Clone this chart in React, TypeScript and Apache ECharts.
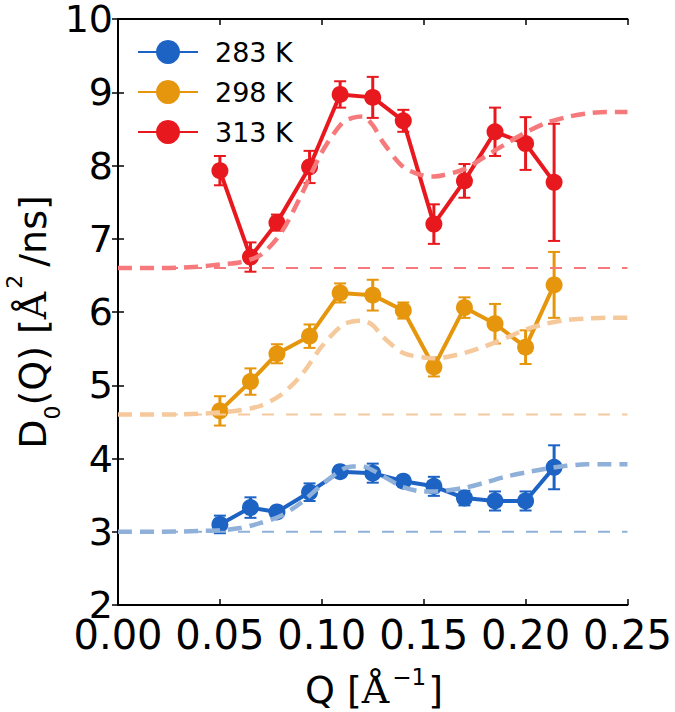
import React, { useEffect, useRef } from "react";
import * as echarts from "echarts";

// Measured data (Q in 1/Å, D0 in Å^2/ns)
const qData = [0.05, 0.065, 0.078, 0.094, 0.109, 0.125, 0.14, 0.155, 0.17, 0.185, 0.2, 0.214];
const d283 = [3.1, 3.33, 3.27, 3.54, 3.82, 3.8, 3.69, 3.62, 3.46, 3.42, 3.42, 3.88];
const e283 = [0.12, 0.14, 0.05, 0.12, 0.05, 0.13, 0.05, 0.13, 0.1, 0.13, 0.13, 0.3];
const d298 = [4.65, 5.05, 5.43, 5.67, 6.26, 6.23, 6.02, 5.25, 6.06, 5.84, 5.52, 6.37];
const e298 = [0.2, 0.18, 0.13, 0.16, 0.13, 0.21, 0.11, 0.13, 0.14, 0.27, 0.23, 0.45];
const d313 = [7.93, 6.75, 7.22, 7.98, 8.97, 8.93, 8.61, 7.2, 7.79, 8.46, 8.3, 7.77];
const e313 = [0.2, 0.2, 0.11, 0.22, 0.18, 0.28, 0.15, 0.27, 0.23, 0.33, 0.36, 0.8];

// Model curves (dashed)
const qModel = [0, 0.02, 0.04, 0.05, 0.06, 0.07, 0.08, 0.09, 0.1, 0.11, 0.115, 0.12, 0.125, 0.13, 0.14, 0.15, 0.155, 0.16, 0.17, 0.18, 0.19, 0.2, 0.21, 0.22, 0.23, 0.24, 0.25];
const m283 = [3.0, 3.0, 3.01, 3.02, 3.05, 3.12, 3.22, 3.4, 3.64, 3.85, 3.89, 3.89, 3.84, 3.76, 3.61, 3.55, 3.55, 3.56, 3.6, 3.67, 3.75, 3.81, 3.86, 3.9, 3.92, 3.92, 3.92];
const m298 = [4.6, 4.6, 4.61, 4.63, 4.66, 4.72, 4.87, 5.14, 5.53, 5.82, 5.87, 5.88, 5.82, 5.66, 5.44, 5.38, 5.37, 5.38, 5.44, 5.53, 5.64, 5.76, 5.84, 5.89, 5.91, 5.92, 5.92];
const m313 = [6.6, 6.6, 6.62, 6.65, 6.68, 6.78, 7.08, 7.6, 8.18, 8.58, 8.65, 8.67, 8.55, 8.32, 7.98, 7.86, 7.85, 7.87, 7.95, 8.12, 8.29, 8.45, 8.58, 8.66, 8.71, 8.73, 8.73];

// Baselines (D at Q -> 0)
const baseQ = [0, 0.25];
const base283 = 3.0;
const base298 = 4.6;
const base313 = 6.6;

const xTicks = [0, 0.05, 0.1, 0.15, 0.2, 0.25];
const labels = ["283 K", "298 K", "313 K"];

const C = {
  blue: "#1c63c4",
  orange: "#e6960c",
  red: "#e8191e",
  blueL: "#8fb0d8",
  orangeL: "#f5c99b",
  redL: "#f67a7c",
};

const SANS = "'DejaVu Sans', sans-serif";
const SERIF = "'DejaVu Serif', serif";

function errSeries(vals: number[], errs: number[], color: string) {
  return {
    type: "custom",
    xAxisIndex: 0,
    yAxisIndex: 0,
    z: 1,
    silent: true,
    data: qData.map((q, i) => [q, vals[i] - errs[i], vals[i] + errs[i]]),
    encode: { x: 0, y: [1, 2] },
    renderItem: (params: any, api: any) => {
      const x = api.value(0);
      const lo = api.coord([x, api.value(1)]);
      const hi = api.coord([x, api.value(2)]);
      const cw = 6;
      const st = { stroke: color, lineWidth: 3 };
      const cs = { stroke: color, lineWidth: 2 };
      return {
        type: "group",
        children: [
          { type: "line", shape: { x1: lo[0], y1: lo[1], x2: hi[0], y2: hi[1] }, style: st },
          { type: "line", shape: { x1: lo[0] - cw, y1: lo[1], x2: lo[0] + cw, y2: lo[1] }, style: cs },
          { type: "line", shape: { x1: hi[0] - cw, y1: hi[1], x2: hi[0] + cw, y2: hi[1] }, style: cs },
        ],
      };
    },
  };
}

function dataSeries(name: string, vals: number[], color: string) {
  return {
    name,
    type: "line",
    z: 2,
    data: qData.map((q, i) => [q, vals[i]]),
    symbol: "circle",
    symbolSize: 17,
    showSymbol: true,
    itemStyle: { color },
    lineStyle: { color, width: 4 },
  };
}

function modelSeries(vals: number[], color: string) {
  return {
    type: "line",
    z: 3,
    silent: true,
    data: qModel.map((q, i) => [q, vals[i]]),
    showSymbol: false,
    symbol: "none",
    smooth: 0.3,
    lineStyle: { color, width: 4.5, type: [14, 8] },
  };
}

function baseSeries(v: number, color: string) {
  return {
    type: "line",
    z: 3,
    silent: true,
    data: baseQ.map((q) => [q, v]),
    showSymbol: false,
    symbol: "none",
    lineStyle: { color, width: 2, type: [12, 12] },
  };
}

const axisCommon = {
  axisLine: { show: true, lineStyle: { color: "#000", width: 2 } },
  axisTick: { show: true, inside: true, length: 6, lineStyle: { color: "#000", width: 1.5 } },
  splitLine: { show: false },
};

export default function App() {
  const ref = useRef<HTMLDivElement>(null);
  useEffect(() => {
    if (!ref.current) return;
    const chart = echarts.init(ref.current, null, { renderer: "svg" });
    const option: any = {
      animation: false,
      backgroundColor: "#fff",
      grid: { left: 118, right: 45, top: 19, bottom: 107, containLabel: false },
      xAxis: [
        {
          type: "value",
          min: xTicks[0],
          max: xTicks[xTicks.length - 1],
          interval: 0.05,
          position: "bottom",
          ...axisCommon,
          axisLabel: {
            formatter: (v: number) => v.toFixed(2),
            fontSize: 40,
            lineHeight: 34,
            fontFamily: SANS,
            color: "#000",
            margin: 13,
          },
        },
        {
          type: "value",
          min: xTicks[0],
          max: xTicks[xTicks.length - 1],
          interval: 0.05,
          position: "top",
          ...axisCommon,
          axisLabel: { show: false },
        },
      ],
      yAxis: [
        {
          type: "value",
          min: 2,
          max: 10,
          interval: 1,
          position: "left",
          ...axisCommon,
          axisLabel: { fontSize: 38, lineHeight: 32, fontFamily: SANS, color: "#000", margin: 5 },
        },
        {
          type: "value",
          min: 2,
          max: 10,
          interval: 1,
          position: "right",
          ...axisCommon,
          axisLabel: { show: false },
        },
      ],
      legend: {
        orient: "vertical",
        left: 132,
        top: 32,
        itemWidth: 60,
        itemHeight: 30,
        itemGap: 10,
        data: labels,
        textStyle: { fontSize: 27, fontFamily: SANS, color: "#000", padding: [0, 0, 0, 12], lineHeight: 30 },
      },
      graphic: [
        {
          type: "text",
          x: 374,
          y: 690,
          style: {
            text: "{t|Q [}{a|Å}{p|−1}{t|]}",
            align: "center",
            verticalAlign: "middle",
            fill: "#000",
            rich: {
              t: { fontSize: 38, fontFamily: SANS, lineHeight: 50, fill: "#000" },
              a: { fontSize: 38, fontFamily: SERIF, lineHeight: 50, fill: "#000" },
              p: { fontSize: 23, fontFamily: SANS, lineHeight: 20, verticalAlign: "top", fill: "#000", padding: [0, 2, 0, 3] },
            },
          },
        },
        {
          type: "text",
          x: 33,
          y: 322,
          rotation: Math.PI / 2,
          style: {
            text: "{t|D}{s|0}{t|(Q) [}{a|Å}{p|2}{t|/ns]}",
            align: "center",
            verticalAlign: "middle",
            fill: "#000",
            rich: {
              t: { fontSize: 38, fontFamily: SANS, lineHeight: 60, fill: "#000" },
              a: { fontSize: 38, fontFamily: SERIF, lineHeight: 60, fill: "#000" },
              s: { fontSize: 22, fontFamily: SANS, lineHeight: 34, verticalAlign: "bottom", fill: "#000" },
              p: { fontSize: 22, fontFamily: SANS, lineHeight: 16, verticalAlign: "top", fill: "#000", padding: [0, 8, 0, 3] },
            },
          },
        },
      ],
      series: [
        errSeries(d283, e283, C.blue),
        errSeries(d298, e298, C.orange),
        errSeries(d313, e313, C.red),
        dataSeries(labels[0], d283, C.blue),
        dataSeries(labels[1], d298, C.orange),
        dataSeries(labels[2], d313, C.red),
        baseSeries(base283, C.blueL),
        baseSeries(base298, C.orangeL),
        baseSeries(base313, C.redL),
        modelSeries(m283, C.blueL),
        modelSeries(m298, C.orangeL),
        modelSeries(m313, C.redL),
      ],
    };
    chart.setOption(option);
    return () => chart.dispose();
  }, []);
  return (
    <div
      ref={ref}
      style={{ position: "absolute", left: 0, top: 0, width: 675, height: 712, background: "#fff" }}
    />
  );
}
